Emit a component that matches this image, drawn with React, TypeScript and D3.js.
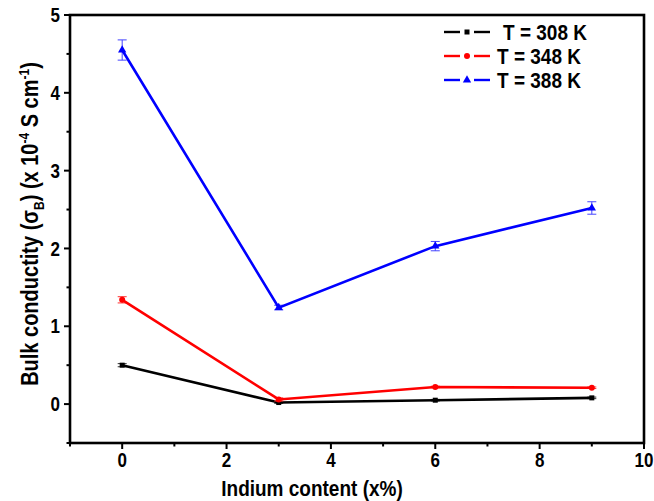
import React, { useEffect, useRef } from 'react';
import * as d3 from 'd3';

const indium = [0, 3, 6, 9];
const seriesNames = ['T = 308 K', 'T = 348 K', 'T = 388 K'];
const sigma308 = [0.5, 0.02, 0.05, 0.08];
const sigma348 = [1.34, 0.06, 0.22, 0.21];
const sigma388 = [4.55, 1.24, 2.03, 2.52];
const err308 = [0.02, 0.01, 0.01, 0.01];
const err348 = [0.04, 0.02, 0.01, 0.01];
const err388 = [0.13, 0.03, 0.06, 0.08];
const xTicks = [0, 2, 4, 6, 8, 10];
const yTicks = [0, 1, 2, 3, 4, 5];

const W = 654;
const H = 501;

export default function App() {
  const ref = useRef<SVGSVGElement | null>(null);

  useEffect(() => {
    if (!ref.current) return;
    const svg = d3.select(ref.current);
    svg.selectAll('*').remove();

    const left = 70, right = 644, top = 15, bottom = 443;
    const x = d3.scaleLinear().domain([-1, 10]).range([left, right]);
    const y = d3.scaleLinear().domain([-0.5, 5]).range([bottom, top]);
    const font = 'Liberation Sans, Arial, sans-serif';
    // text in the reference is a little taller than it is wide
    const stretch = 1.15;

    const series = [
      { name: seriesNames[0], vals: sigma308, err: err308, color: '#000000', errColor: '#333333', shape: 'square' },
      { name: seriesNames[1], vals: sigma348, err: err348, color: '#ff0000', errColor: '#ff3333', shape: 'circle' },
      { name: seriesNames[2], vals: sigma388, err: err388, color: '#0000ff', errColor: '#4444ff', shape: 'triangle' },
    ];

    const marker = (g: any, shape: string, cx: number, cy: number, color: string) => {
      if (shape === 'square') {
        g.append('rect').attr('x', cx - 2.5).attr('y', cy - 2.5).attr('width', 5).attr('height', 5).attr('fill', color);
      } else if (shape === 'circle') {
        g.append('circle').attr('cx', cx).attr('cy', cy).attr('r', 3).attr('fill', color);
      } else {
        g.append('path').attr('d', d3.symbol().type(d3.symbolTriangle).size(30)()).attr('transform', `translate(${cx},${cy})`).attr('fill', color);
      }
    };

    const label = (g: any, tx: number, ty: number, size: number, anchor: string, txt: string) =>
      g.append('text')
        .attr('transform', `translate(${tx},${ty}) scale(1,${stretch})`)
        .attr('text-anchor', anchor)
        .attr('dy', '0.36em')
        .style('font-family', font).style('font-weight', 'bold').style('font-size', `${size}px`)
        .text(txt);

    // data
    const plot = svg.append('g');
    series.forEach(s => {
      const pts = indium.map((v, i) => [x(v), y(s.vals[i])] as [number, number]);
      // error bars
      indium.forEach((v, i) => {
        const cx = x(v);
        const y1 = y(s.vals[i] + s.err[i]);
        const y2 = y(s.vals[i] - s.err[i]);
        const eb = plot.append('g').attr('stroke', s.errColor).attr('stroke-width', 1);
        eb.append('line').attr('x1', cx).attr('x2', cx).attr('y1', y1).attr('y2', y2);
        eb.append('line').attr('x1', cx - 4.5).attr('x2', cx + 4.5).attr('y1', y1).attr('y2', y1);
        eb.append('line').attr('x1', cx - 4.5).attr('x2', cx + 4.5).attr('y1', y2).attr('y2', y2);
      });
      plot.append('path')
        .attr('d', d3.line()(pts))
        .attr('fill', 'none')
        .attr('stroke', s.color)
        .attr('stroke-width', 2.6);
      pts.forEach(p => marker(plot, s.shape, p[0], p[1], s.color));
    });

    // frame
    const frame = svg.append('g').attr('stroke', '#000').attr('stroke-width', 2.6).attr('fill', 'none');
    frame.append('rect').attr('x', left).attr('y', top).attr('width', right - left).attr('height', bottom - top);

    // ticks
    const ax = svg.append('g').attr('stroke', '#000').attr('stroke-width', 2);
    d3.range(-1, 10.01, 1).forEach(v => {
      const major = xTicks.includes(v);
      ax.append('line').attr('x1', x(v)).attr('x2', x(v)).attr('y1', bottom).attr('y2', bottom + (major ? 6 : 3.5));
    });
    d3.range(-0.5, 5.01, 0.5).forEach(v => {
      const major = yTicks.includes(v);
      ax.append('line').attr('y1', y(v)).attr('y2', y(v)).attr('x1', left).attr('x2', left - (major ? 6 : 3.5));
    });

    const tl = svg.append('g');
    xTicks.forEach(d => label(tl, x(d), bottom + 17, 17, 'middle', String(d)));
    yTicks.forEach(d => label(tl, left - 10, y(d), 17, 'end', String(d)));

    // axis titles
    label(svg, 312, 488, 19, 'middle', 'Indium content (x%)');

    const yt = svg.append('text')
      .attr('transform', `translate(38,224) rotate(-90) scale(1,${stretch})`)
      .attr('text-anchor', 'middle')
      .style('font-family', font).style('font-weight', 'bold').style('font-size', '20px');
    yt.append('tspan').text('Bulk conductity (σ');
    yt.append('tspan').attr('dy', 5).style('font-size', '12px').text('B');
    yt.append('tspan').attr('dy', -5).text(') (x 10');
    yt.append('tspan').attr('dy', -8).style('font-size', '12px').text('-4');
    yt.append('tspan').attr('dy', 8).text(' S cm');
    yt.append('tspan').attr('dy', -8).style('font-size', '12px').text('-1');
    yt.append('tspan').attr('dy', 8).text(')');

    // legend
    const lg = svg.append('g');
    series.forEach((s, i) => {
      const ly = 32 + i * 24;
      lg.append('line').attr('x1', 444).attr('x2', 460).attr('y1', ly).attr('y2', ly).attr('stroke', s.color).attr('stroke-width', 2.4);
      lg.append('line').attr('x1', 474).attr('x2', 490).attr('y1', ly).attr('y2', ly).attr('stroke', s.color).attr('stroke-width', 2.4);
      marker(lg, s.shape, 467, ly, s.color);
      label(lg, i === 0 ? 503 : 497, ly, 19, 'start', s.name);
    });
  }, []);

  return (
    <svg ref={ref} width={W} height={H} style={{ position: 'absolute', left: 0, top: 0, background: '#fff' }} />
  );
}
